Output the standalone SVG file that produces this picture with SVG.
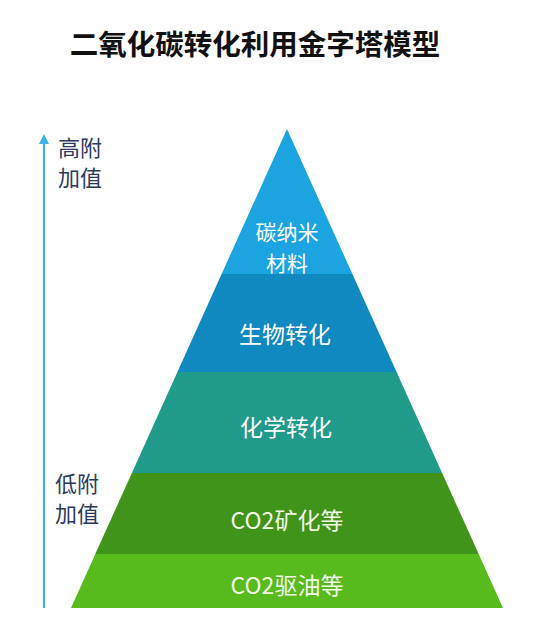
<svg xmlns="http://www.w3.org/2000/svg" width="552" height="631" viewBox="0 0 552 631">
<defs>
<style>
.t{font-family:"Noto Sans CJK SC","Noto Sans",sans-serif;}
.lbl{font-family:"Noto Sans CJK SC","Noto Sans",sans-serif;font-size:23px;fill:#ffffff;text-anchor:middle;}
.sm{font-size:21px;}
.side{font-family:"Noto Sans CJK SC","Noto Sans",sans-serif;font-size:22px;fill:#2b3a5c;}
</style>
<marker id="ah" viewBox="0 0 10 10" refX="2" refY="5" markerWidth="11" markerHeight="10" markerUnits="userSpaceOnUse" orient="auto">
<path d="M0,0 L10,5 L0,10 Z" fill="#3ab4e6"/>
</marker>
</defs>
<rect width="552" height="631" fill="#ffffff"/>
<text class="t" x="255" y="55" font-size="28.5" font-weight="bold" text-anchor="middle" fill="#111111">二氧化碳转化利用金字塔模型</text>
<g id="connectors">
<line x1="44" y1="608" x2="44" y2="142" stroke="#3ab4e6" stroke-width="2.2" marker-end="url(#ah)"/>
</g>
<g id="label-high">
<text class="side" x="58" y="156">高附</text>
<text class="side" x="58" y="186">加值</text>
</g>
<g id="label-low">
<text class="side" x="55" y="492">低附</text>
<text class="side" x="55" y="522">加值</text>
</g>
<g id="layer1">
<polygon points="287,129 352.4,274 221.6,274" fill="#1ba4e0"/>
<text class="lbl sm" x="287" y="240">碳纳米</text>
<text class="lbl sm" x="287" y="270.5">材料</text>
</g>
<g id="layer2">
<polygon points="221.6,274 352.4,274 396.6,372 177.4,372" fill="#0f89c0"/>
<text class="lbl" x="285" y="343">生物转化</text>
</g>
<g id="layer3">
<polygon points="177.4,372 396.6,372 442.1,473 131.9,473" fill="#1f9a8b"/>
<text class="lbl" x="286" y="436">化学转化</text>
</g>
<g id="layer4">
<polygon points="131.9,473 442.1,473 478.7,554 95.3,554" fill="#3f9419"/>
<text class="lbl" x="287" y="529" style="fill:#f2f9e6">CO2矿化等</text>
</g>
<g id="layer5">
<polygon points="95.3,554 478.7,554 503,608 71,608" fill="#57bb1e"/>
<text class="lbl" x="287" y="594" style="fill:#f2f9e6">CO2驱油等</text>
</g>
</svg>
